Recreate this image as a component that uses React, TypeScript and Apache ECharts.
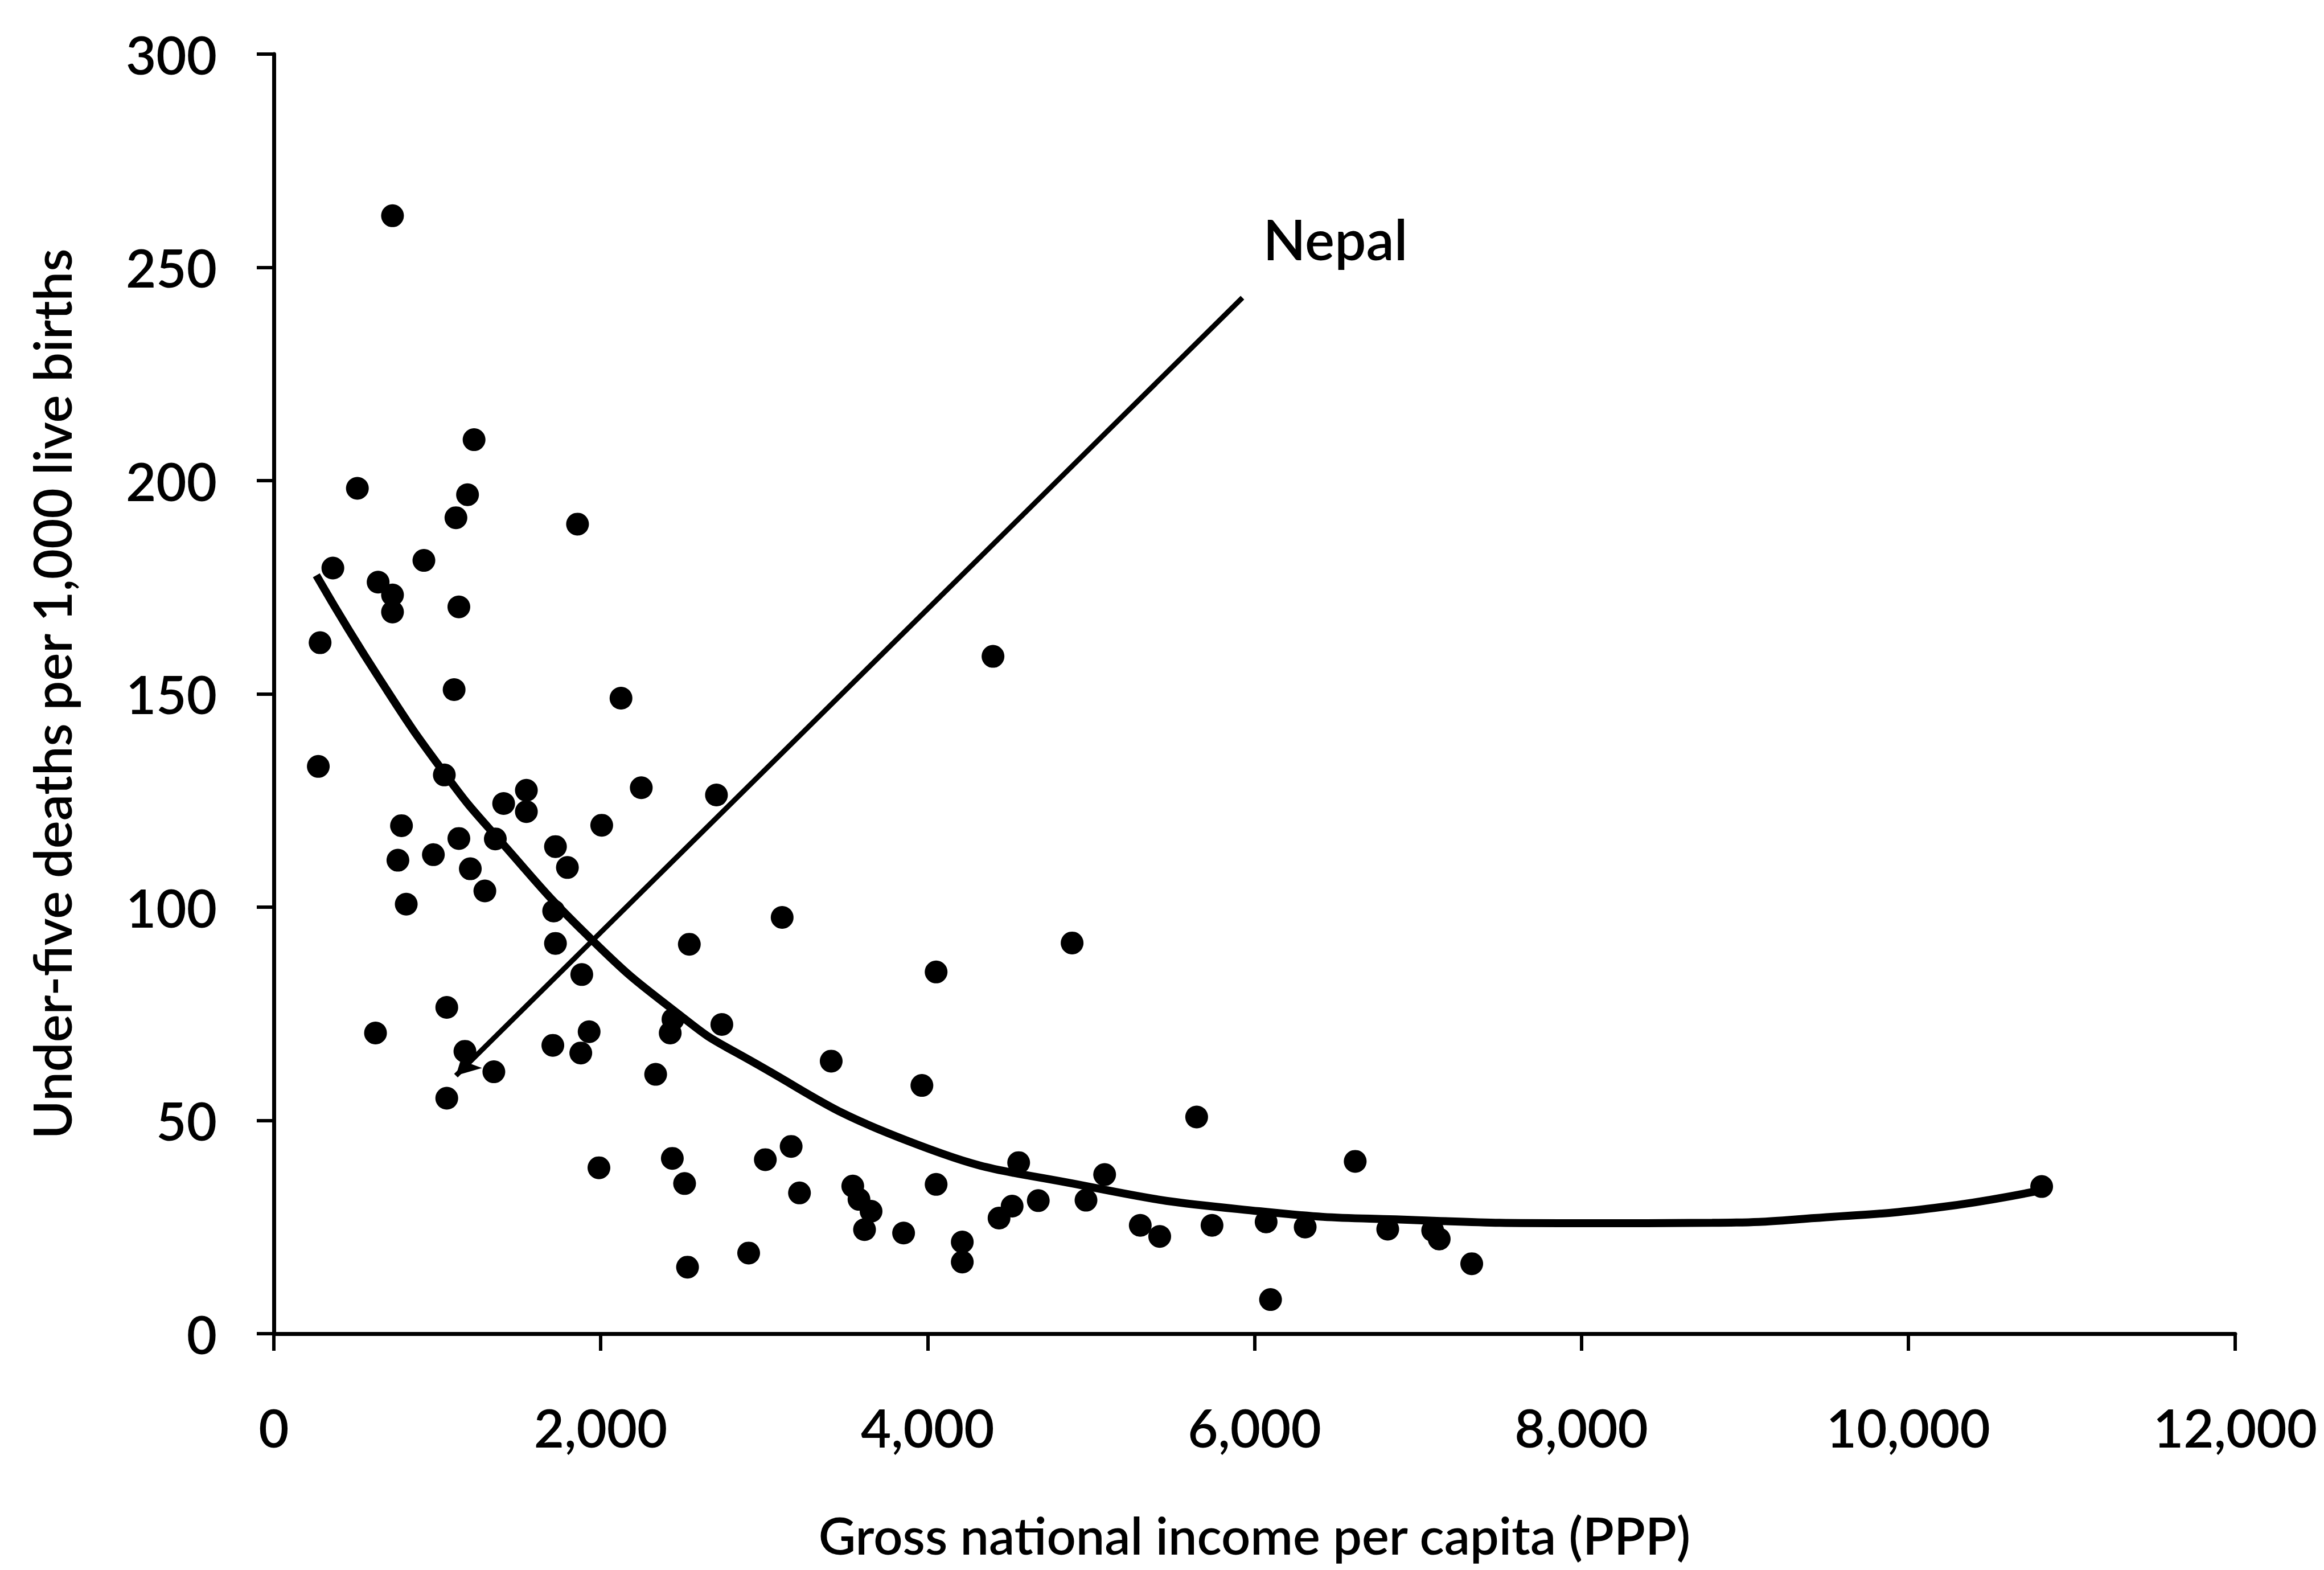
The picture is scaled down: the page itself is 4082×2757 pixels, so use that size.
import React, { useEffect, useRef } from "react";
import * as echarts from "echarts";

// Scatter points: gross national income per capita (PPP) vs under-five deaths per 1,000 live births
const incomeX: number[] = [
  726, 1225, 511, 1185, 1114, 1858, 361, 918, 638, 726,
  726, 1132, 283, 1103, 4400, 2124, 272, 1043, 2248, 2708,
  1545, 1406, 1545, 781, 2006, 1132, 1355, 1723, 759, 976,
  1202, 1796, 1291, 810, 1712, 3110, 2542, 1723, 4884, 4052,
  1884, 1058, 622, 2442, 2425, 2741, 1929, 1707, 1878, 1169,
  1346, 2336, 3410, 1058, 3965, 5646, 1989, 2438, 2513, 3007,
  3165, 3216, 3542, 3580, 3654, 3614, 3853, 2905, 4212, 4212,
  4557, 4052, 4437, 4517, 4677, 5083, 4969, 5301, 5420, 5740,
  6071, 6098, 6310, 6616, 6815, 7090, 7130, 7329, 10816, 2531,
];
const deathsY: number[] = [
  262.1, 209.6, 198.2, 196.7, 191.3, 189.8, 179.5, 181.3, 176.2, 173.2,
  169.2, 170.4, 162.0, 151.0, 158.8, 149.0, 133.0, 131.0, 128.0, 126.3,
  127.4, 124.3, 122.4, 119.1, 119.2, 116.1, 116.0, 114.2, 111.0, 112.3,
  109.0, 109.3, 103.8, 100.7, 99.1, 97.6, 91.3, 91.5, 91.6, 84.8,
  84.2, 76.5, 70.5, 73.7, 70.5, 72.5, 70.8, 67.6, 65.8, 66.2,
  61.4, 60.8, 63.9, 55.2, 58.2, 50.8, 38.9, 41.1, 35.2, 40.8,
  43.9, 33.0, 34.6, 31.5, 28.7, 24.4, 23.6, 18.9, 21.5, 16.8,
  40.1, 35.0, 27.1, 29.9, 31.2, 37.3, 31.3, 25.4, 22.8, 25.4,
  26.2, 8.0, 25.0, 40.4, 24.5, 24.2, 22.2, 16.4, 34.5, 15.6,
];

// Fitted trend curve
const trendX: number[] = [
  260, 649, 1048, 1358, 1955, 2487, 2819, 3906, 4969, 6031, 7000, 8000, 8800,
  9500, 10205, 10809,
];
const trendY: number[] = [
  177.8, 153.4, 131.2, 116.7, 92.0, 74.6, 66.1, 44.8, 34.6, 28.7, 26.6, 25.9,
  26.0, 27.3, 29.7, 33.6,
];

// Nepal annotation (data coordinates)
const nepalArrowStart: number[] = [5926, 242.9];
const nepalArrowEnd: number[] = [1114, 60.5];
const nepalLabelPos: number[] = [6052, 256.7];
const nepalLabel = "Nepal";

// Axes
const xTicks: number[] = [0, 2000, 4000, 6000, 8000, 10000, 12000];
const yTicks: number[] = [0, 50, 100, 150, 200, 250, 300];
const xTitle = "Gross national income per capita (PPP)";
const yTitle = "Under-five deaths per 1,000 live births";

const FONT = "Lato";
const WEIGHT = 600;

export default function App() {
  const ref = useRef<HTMLDivElement>(null);

  useEffect(() => {
    if (!ref.current) return;
    const chart = echarts.init(ref.current, null, { renderer: "svg" });
    const points = incomeX.map((x, i) => [x, deathsY[i]]);
    const trend = trendX.map((x, i) => [x, trendY[i]]);

    chart.setOption({
      animation: false,
      backgroundColor: "#ffffff",
      grid: { left: 481, right: 156, top: 95, bottom: 415, containLabel: false },
      xAxis: {
        type: "value",
        min: xTicks[0],
        max: xTicks[xTicks.length - 1],
        interval: xTicks[1] - xTicks[0],
        name: xTitle,
        nameLocation: "middle",
        nameGap: 318,
        nameTextStyle: {
          fontFamily: FONT,
          fontWeight: WEIGHT,
          fontSize: 90,
          lineHeight: 70,
          color: "#000",
        },
        axisLine: { show: true, onZero: false, lineStyle: { color: "#000", width: 7 } },
        axisTick: { show: true, inside: false, length: 30, lineStyle: { color: "#000", width: 6 } },
        axisLabel: {
          margin: 118,
          fontFamily: FONT,
          fontWeight: WEIGHT,
          fontSize: 92,
          color: "#000",
          formatter: (v: number) => v.toLocaleString("en-US"),
        },
        splitLine: { show: false },
      },
      yAxis: {
        type: "value",
        min: yTicks[0],
        max: yTicks[yTicks.length - 1],
        interval: yTicks[1] - yTicks[0],
        name: yTitle,
        nameLocation: "middle",
        nameGap: 345,
        nameRotate: 90,
        nameTextStyle: { fontFamily: FONT, fontWeight: WEIGHT, fontSize: 92, color: "#000" },
        axisLine: { show: true, onZero: false, lineStyle: { color: "#000", width: 7 } },
        axisTick: { show: true, inside: false, length: 30, lineStyle: { color: "#000", width: 6 } },
        axisLabel: { margin: 100, fontFamily: FONT, fontWeight: WEIGHT, fontSize: 92, color: "#000" },
        splitLine: { show: false },
      },
      series: [
        {
          type: "line",
          data: trend,
          smooth: true,
          showSymbol: false,
          symbol: "none",
          lineStyle: { color: "#000", width: 14 },
          silent: true,
          z: 2,
        },
        {
          type: "scatter",
          data: points,
          symbol: "circle",
          symbolSize: 40,
          itemStyle: { color: "#000", opacity: 1 },
          z: 3,
          markLine: {
            silent: true,
            symbol: ["none", "arrow"],
            symbolSize: [34, 42],
            label: { show: false },
            lineStyle: { color: "#000", width: 9, type: "solid", opacity: 1 },
            data: [[{ coord: nepalArrowStart }, { coord: nepalArrowEnd }]],
          },
        },
        {
          type: "scatter",
          data: [nepalLabelPos],
          symbolSize: 0,
          silent: true,
          itemStyle: { color: "#000", opacity: 1 },
          label: {
            show: true,
            position: "inside",
            align: "left",
            verticalAlign: "middle",
            formatter: () => nepalLabel,
            fontFamily: FONT,
            fontWeight: WEIGHT,
            fontSize: 98,
            color: "#000",
            opacity: 1,
          },
          z: 4,
        },
      ],
    });

    return () => chart.dispose();
  }, []);

  return (
    <div
      ref={ref}
      style={{ position: "fixed", left: 0, top: 0, width: 4082, height: 2757, background: "#fff" }}
    />
  );
}
